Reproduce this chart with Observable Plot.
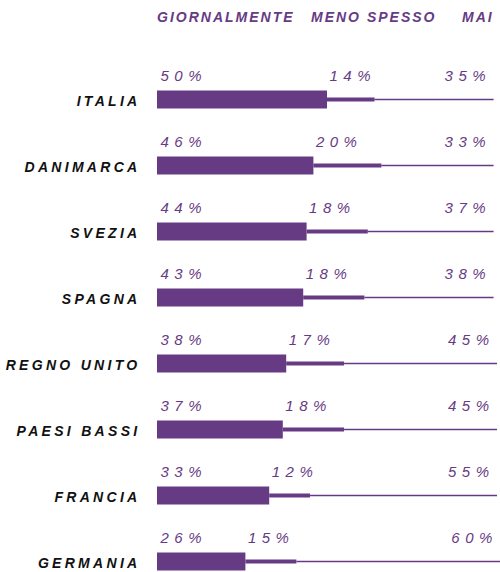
<!DOCTYPE html>
<html>
<head>
<meta charset="utf-8">
<script src="https://cdn.jsdelivr.net/npm/d3@7"></script>
<script src="https://cdn.jsdelivr.net/npm/@observablehq/plot@0.6"></script>
<style>
  html, body { margin: 0; padding: 0; background: #fff; }
  #wrap { position: relative; width: 500px; height: 572px; overflow: hidden; }
  #head { position: relative; height: 40px; }
  #head span { position: absolute; top: 9px; font-family: "Liberation Sans", sans-serif; font-style: italic; font-weight: bold; font-size: 14px; letter-spacing: 2px; color: #673a84; }
  .lbl { font-family: "Liberation Sans", sans-serif; font-style: italic; }
</style>
</head>
<body>
<div id="wrap">
  <div id="head"></div>
  <div id="chart"></div>
</div>
<script>
const countries = ["Italia", "Danimarca", "Svezia", "Spagna", "Regno Unito", "Paesi Bassi", "Francia", "Germania"];
const daily = [50, 46, 44, 43, 38, 37, 33, 26];
const lessOften = [14, 20, 18, 18, 17, 18, 12, 15];
const never = [35, 33, 37, 38, 45, 45, 55, 60];
const headers = ["GIORNALMENTE", "MENO SPESSO", "MAI"];

const purple = "#673a84";

const rows = countries.map((c, i) => ({
  country: c,
  daily: daily[i],
  less: lessOften[i],
  never: never[i],
  a1: 0, a2: daily[i],
  b1: daily[i], b2: daily[i] + lessOften[i],
  c1: daily[i] + lessOften[i], c2: daily[i] + lessOften[i] + never[i]
}));

const pct = v => `${v}%`;

const chart = Plot.plot({
  width: 500,
  height: 532,
  marginLeft: 157,
  marginRight: 3,
  marginTop: 57,
  marginBottom: 10,
  x: { domain: [0, 100], axis: null },
  y: { type: "point", domain: countries, padding: 0, axis: null },
  marks: [
    Plot.ruleY(rows, { y: "country", x1: "c1", x2: "c2", stroke: purple, strokeWidth: 1.5 }),
    Plot.ruleY(rows, { y: "country", x1: "b1", x2: "b2", stroke: purple, strokeWidth: 4 }),
    Plot.ruleY(rows, { y: "country", x1: "a1", x2: "a2", stroke: purple, strokeWidth: 18 }),
    Plot.text(rows, { y: "country", x: "a1", text: d => pct(d.daily), textAnchor: "start", dx: 3, dy: -23, fill: purple, fontSize: 15, className: "lbl pct" }),
    Plot.text(rows, { y: "country", x: "b1", text: d => pct(d.less), textAnchor: "start", dx: 2, dy: -23, fill: purple, fontSize: 15, className: "lbl pct" }),
    Plot.text(rows, { y: "country", x: "c2", text: d => pct(d.never), textAnchor: "end", dx: -3, dy: -23, fill: purple, fontSize: 15, className: "lbl pct" }),
    Plot.text(rows, { y: "country", x: "a1", text: d => d.country.toUpperCase(), textAnchor: "end", dx: -17, dy: 2, fill: "#111", fontSize: 14, className: "lbl country" })
  ]
});

document.getElementById("chart").appendChild(chart);

const st = document.createElement("style");
st.textContent = `
  .pct text, text.pct, .pct { letter-spacing: 5.5px; font-weight: normal; }
  .country text, .country { letter-spacing: 3.3px; font-weight: bold; }
`;
document.head.appendChild(st);

const headLefts = [157, 311, 462];
const head = document.getElementById("head");
headers.forEach((h, i) => {
  const s = document.createElement("span");
  s.textContent = h;
  s.style.left = headLefts[i] + "px";
  head.appendChild(s);
});
</script>
</body>
</html>
